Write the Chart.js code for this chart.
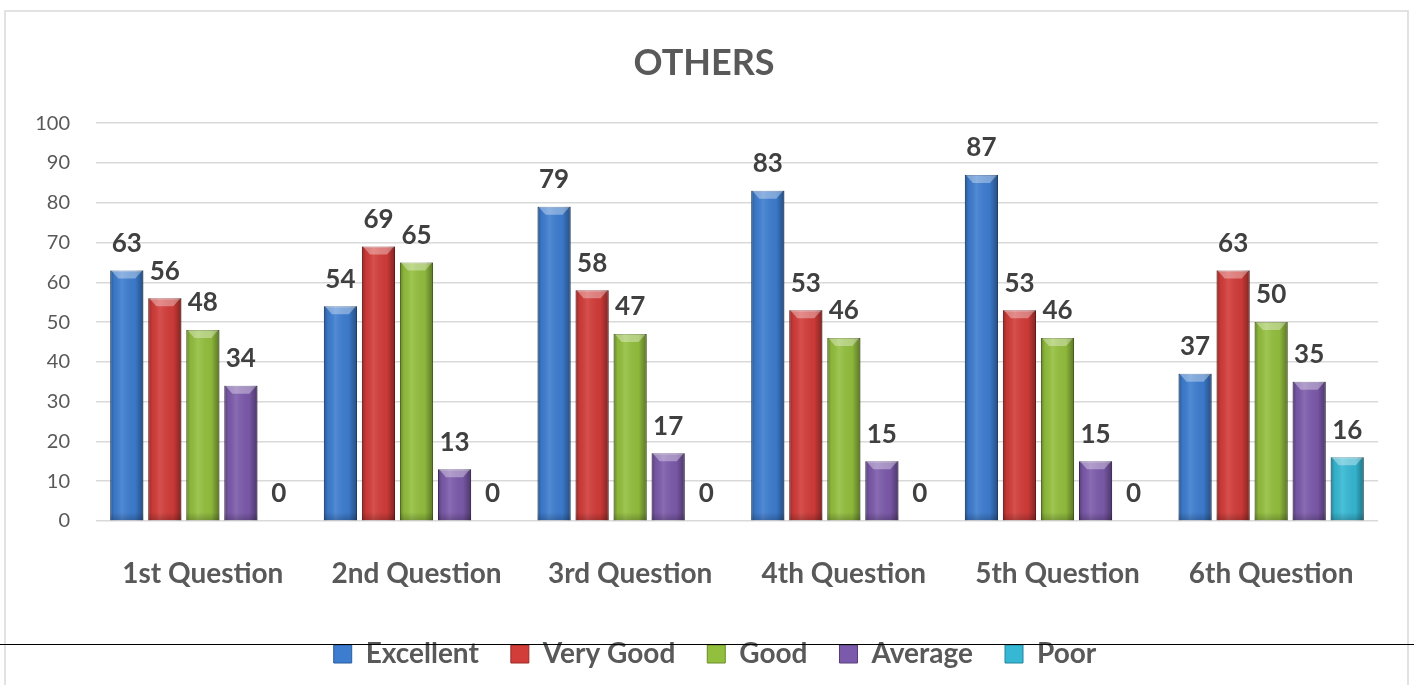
<!DOCTYPE html>
<html>
<head>
<meta charset="utf-8">
<script src="https://cdn.jsdelivr.net/npm/chart.js@4"></script>
<style>
  html, body { margin: 0; padding: 0; background: #fff; }
  #wrap { width: 1414px; height: 685px; position: relative; }
</style>
</head>
<body>
<div id="wrap"><canvas id="chartOthers"></canvas></div>
<script>
const categories = ['1st Question', '2nd Question', '3rd Question', '4th Question', '5th Question', '6th Question'];
const excellent = [63, 54, 79, 83, 87, 37];
const veryGood = [56, 69, 58, 53, 53, 63];
const good = [48, 65, 47, 46, 46, 50];
const average = [34, 13, 17, 15, 15, 35];
const poor = [0, 0, 0, 0, 0, 16];
const yTicks = [0, 10, 20, 30, 40, 50, 60, 70, 80, 90, 100];

const FONT = 'Lato, "Open Sans", sans-serif';

// frame, the stray black rule and bar shading
const decor = {
  id: 'decor',
  beforeDraw(chart) {
    // nudge the legend a little to the right, like the original
    if (chart.legend) chart.legend.left = 52;
    const ctx = chart.ctx;
    ctx.save();
    ctx.strokeStyle = '#d9d9d9';
    ctx.lineWidth = 1.5;
    ctx.beginPath();
    ctx.moveTo(5, 700);
    ctx.lineTo(5, 11);
    ctx.lineTo(1408, 11);
    ctx.lineTo(1408, 700);
    ctx.stroke();
    ctx.restore();
  },
  afterDatasetsDraw(chart) {
    const ctx = chart.ctx;
    ctx.save();
    chart.data.datasets.forEach((ds, i) => {
      const meta = chart.getDatasetMeta(i);
      meta.data.forEach((bar, j) => {
        const v = ds.data[j];
        if (!v) return;
        const w = bar.width, l = bar.x - w / 2, r = bar.x + w / 2;
        const top = bar.y, h = bar.base - bar.y;
        const g = ctx.createLinearGradient(l, 0, r, 0);
        g.addColorStop(0, 'rgba(0,0,0,0.30)');
        g.addColorStop(0.12, 'rgba(0,0,0,0.05)');
        g.addColorStop(0.35, 'rgba(255,255,255,0.10)');
        g.addColorStop(0.75, 'rgba(0,0,0,0.04)');
        g.addColorStop(1, 'rgba(0,0,0,0.38)');
        ctx.fillStyle = g;
        ctx.fillRect(l, top, w, h);
        // bevelled top cap
        ctx.fillStyle = 'rgba(255,255,255,0.35)';
        ctx.beginPath();
        ctx.moveTo(l + 1, top);
        ctx.lineTo(r - 1, top);
        ctx.lineTo(r - 8, top + 8);
        ctx.lineTo(l + 8, top + 8);
        ctx.closePath();
        ctx.fill();
        // darker foot
        const fg = ctx.createLinearGradient(0, bar.base - 8, 0, bar.base);
        fg.addColorStop(0, 'rgba(0,0,0,0)');
        fg.addColorStop(1, 'rgba(0,0,0,0.2)');
        ctx.fillStyle = fg;
        ctx.fillRect(l, bar.base - 8, w, 8);
      });
    });
    ctx.restore();
  },
  afterDraw(chart) {
    const ctx = chart.ctx;
    // value labels
    ctx.save();
    ctx.font = 'bold 26px ' + FONT;
    ctx.fillStyle = '#404040';
    ctx.textAlign = 'center';
    ctx.textBaseline = 'bottom';
    chart.data.datasets.forEach((ds, i) => {
      chart.getDatasetMeta(i).data.forEach((bar, j) => {
        ctx.fillText(String(ds.data[j]), bar.x, bar.y - 14);
      });
    });
    ctx.restore();
    // black rule across the legend
    ctx.save();
    ctx.strokeStyle = '#000';
    ctx.lineWidth = 1.2;
    ctx.beginPath();
    ctx.moveTo(0, 644.5);
    ctx.lineTo(1414, 644.5);
    ctx.stroke();
    ctx.restore();
  }
};

const el = document.getElementById('chartOthers');
new Chart(el, {
  type: 'bar',
  data: {
    labels: categories,
    datasets: [
      { label: 'Excellent', data: excellent, backgroundColor: '#3d7dd0', borderColor: '#2b5d9c' },
      { label: 'Very Good', data: veryGood, backgroundColor: '#d23c39', borderColor: '#9b2a28' },
      { label: 'Good', data: good, backgroundColor: '#93bf3e', borderColor: '#6a8c2a' },
      { label: 'Average', data: average, backgroundColor: '#7c5aab', borderColor: '#563e7a' },
      { label: 'Poor', data: poor, backgroundColor: '#36b8d4', borderColor: '#25849a' }
    ]
  },
  options: {
    responsive: true,
    maintainAspectRatio: false,
    animation: false,
    categoryPercentage: 0.89,
    barPercentage: 0.87,
    layout: { padding: { left: 30, right: 36, top: 0, bottom: 7 } },
    datasets: { bar: { borderWidth: 1 } },
    plugins: {
      title: {
        display: true,
        text: 'OTHERS',
        color: '#595959',
        font: { family: FONT, size: 36, weight: 'bold' },
        padding: { top: 42, bottom: 38 }
      },
      legend: {
        position: 'bottom',
        labels: {
          color: '#595959',
          font: { family: FONT, size: 28, weight: '700' },
          boxWidth: 18,
          boxHeight: 18,
          padding: 32
        }
      },
      tooltip: { enabled: false }
    },
    scales: {
      x: {
        grid: { display: false, drawTicks: false },
        border: { display: false },
        ticks: {
          color: '#595959',
          font: { family: FONT, size: 28, weight: 'bold' },
          padding: 36
        },
        afterFit(scale) { scale.height = 87; }
      },
      y: {
        min: 0,
        max: 100,
        afterBuildTicks(scale) { scale.ticks = yTicks.map(v => ({ value: v })); },
        grid: { color: '#d9d9d9', lineWidth: 1.5, drawTicks: false },
        border: { display: false },
        ticks: {
          color: '#595959',
          font: { family: FONT, size: 20 },
          padding: 26
        },
        afterFit(scale) { scale.width = 66; }
      }
    }
  },
  plugins: [decor]
});
</script>
</body>
</html>
